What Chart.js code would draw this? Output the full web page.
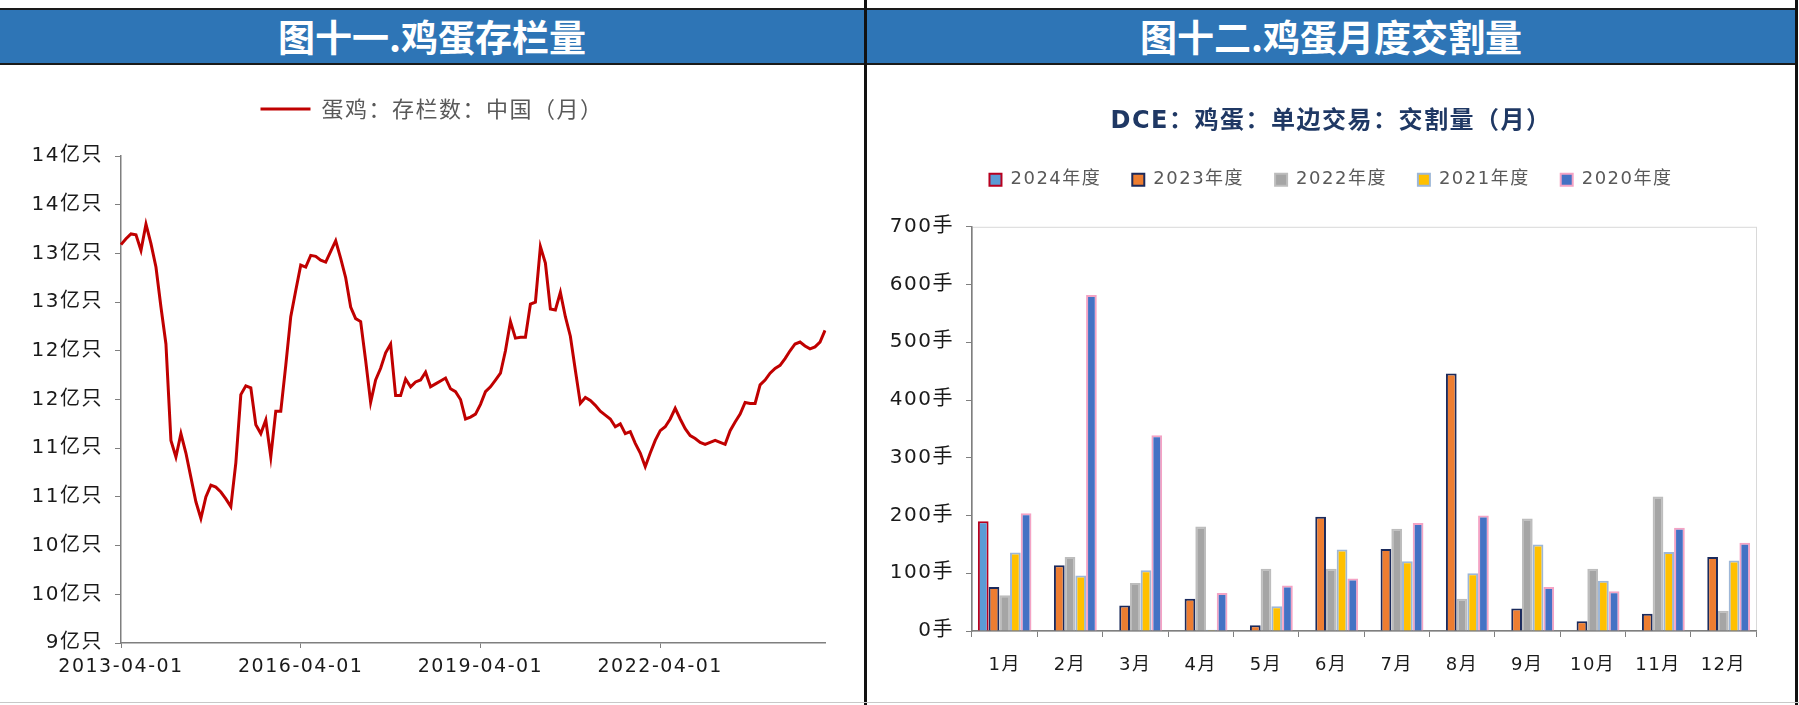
<!DOCTYPE html>
<html>
<head>
<meta charset="utf-8">
<script src="https://cdn.jsdelivr.net/npm/chart.js@4.4.1/dist/chart.umd.min.js"></script>
<style>
  body { margin: 0; width: 1799px; height: 705px; background: #fff; position: relative; overflow: hidden;
         font-family: "Noto Sans CJK SC", sans-serif; }
  .head { position: absolute; top: 8px; height: 53px; background: #2E75B6; border-top: 2px solid #1a1a1a;
          border-bottom: 2px solid #1a1a1a; color: #fff; font-weight: bold; font-size: 37px;
          line-height: 53px; text-align: center; }
  #divider { position: absolute; left: 864px; top: 0; width: 3px; height: 705px; background: #111; }
  #rightEdge { position: absolute; left: 1795px; top: 0; width: 3px; height: 705px; background: #111; }
  #bottomLine { position: absolute; left: 0; top: 702px; width: 1799px; height: 1px; background: #c8c8c8; }
  canvas { position: absolute; }
</style>
</head>
<body>
<div class="head" style="left:0;width:864px;">图十一.鸡蛋存栏量</div>
<div class="head" style="left:867px;width:928px;">图十二.鸡蛋月度交割量</div>
<div id="divider"></div>
<div id="rightEdge"></div>
<div id="bottomLine"></div>
<canvas id="stockChart" width="864" height="636" style="left:0;top:66px;"></canvas>
<canvas id="deliveryChart" width="926" height="636" style="left:868px;top:66px;"></canvas>
<script>
// 图十一 数据：蛋鸡存栏（亿只），2013-04 起每月一个值
const startYear = 2013, startMonth = 4;
const henStock = [
  13.09, 13.15, 13.20, 13.19, 13.03, 13.30, 13.10, 12.86, 12.45, 12.07,
  11.08, 10.91, 11.15, 10.95, 10.70, 10.45, 10.28, 10.50, 10.62, 10.60,
  10.55, 10.48, 10.40, 10.85, 11.55, 11.64, 11.62, 11.24, 11.15, 11.29,
  10.91, 11.38, 11.38, 11.85, 12.35, 12.62, 12.88, 12.86, 12.98, 12.97,
  12.93, 12.91, 13.02, 13.13, 12.95, 12.75, 12.45, 12.33, 12.30, 11.90,
  11.47, 11.70, 11.82, 11.98, 12.07, 11.54, 11.54, 11.71, 11.63, 11.68,
  11.70, 11.78, 11.63, 11.66, 11.69, 11.72, 11.61, 11.58, 11.50, 11.30,
  11.32, 11.35, 11.45, 11.58, 11.63, 11.70, 11.77, 12.00, 12.30, 12.13,
  12.14, 12.14, 12.48, 12.50, 13.07, 12.90, 12.43, 12.42, 12.60, 12.35,
  12.15, 11.80, 11.46, 11.52, 11.49, 11.44, 11.38, 11.34, 11.30, 11.22,
  11.25, 11.15, 11.17, 11.05, 10.95, 10.81, 10.95, 11.08, 11.18, 11.22,
  11.30, 11.41, 11.30, 11.20, 11.13, 11.10, 11.06, 11.04, 11.06, 11.08,
  11.06, 11.04, 11.18, 11.27, 11.35, 11.47, 11.46, 11.46, 11.65, 11.70,
  11.77, 11.82, 11.85, 11.92, 12.00, 12.07, 12.09, 12.05, 12.02, 12.04,
  12.09, 12.21
];
const dates = [];
for (let i = 0; i < henStock.length; i++) {
  const m = startMonth - 1 + i;
  const y = startYear + Math.floor(m / 12);
  dates.push(y + '-' + String(m % 12 + 1).padStart(2, '0') + '-01');
}

// 图十二 数据：DCE 鸡蛋交割量（手）
const months = ['1月', '2月', '3月', '4月', '5月', '6月', '7月', '8月', '9月', '10月', '11月', '12月'];
const yearNames = ['2024年度', '2023年度', '2022年度', '2021年度', '2020年度'];
const d2024 = [190, null, null, null, null, null, null, null, null, null, null, null];
const d2023 = [76, 114, 44, 56, 10, 198, 142, 446, 39, 17, 30, 128];
const d2022 = [62, 128, 83, 181, 108, 108, 177, 56, 195, 108, 233, 35];
const d2021 = [136, 96, 105, 2, 43, 141, 121, 100, 150, 87, 137, 122];
const d2020 = [204, 582, 339, 66, 79, 91, 187, 200, 76, 69, 179, 153];

const fillColors = ['#5B9BD5', '#ED7D31', '#A5A5A5', '#FFC000', '#4472C4'];
const edgeColors = ['#B8001F', '#1B2A5C', '#BDBDBD', '#9DB7D8', '#F4A3C4'];

const numFamily = '"DejaVu Sans", "Noto Sans CJK SC", sans-serif';
const axisGray = '#7F7F7F';

// 图例下方留白
const legendGap = {
  id: 'legendGap',
  beforeInit(chart, args, opts) {
    const origFit = chart.legend.fit;
    chart.legend.fit = function () {
      origFit.bind(chart.legend)();
      this.height += opts.gap || 0;
    };
  }
};

// 标题、图例按整张画布居中
const centerBoxes = {
  id: 'centerBoxes',
  afterLayout(chart) {
    [chart.legend, chart.titleBlock].forEach(box => {
      if (box) { box.left = 0; box.right = chart.width; }
    });
  }
};

// 字距（原图字体较宽松）
const spacing = {
  id: 'spacing',
  beforeUpdate(chart, args, opts) { chart.ctx.letterSpacing = (opts.px || 0) + 'px'; },
  beforeDraw(chart, args, opts) { chart.ctx.letterSpacing = (opts.px || 0) + 'px'; }
};

// 绘图区外框
const plotFrame = {
  id: 'plotFrame',
  beforeDraw(chart, args, opts) {
    if (!opts.color) return;
    const { ctx, chartArea: a } = chart;
    ctx.save();
    ctx.strokeStyle = opts.color;
    ctx.lineWidth = 1;
    ctx.strokeRect(a.left + 0.5, a.top + 0.5, a.right - a.left, a.bottom - a.top);
    ctx.restore();
  }
};

new Chart(document.getElementById('stockChart'), {
  type: 'line',
  data: {
    labels: dates,
    datasets: [{
      label: '蛋鸡：存栏数：中国（月）',
      data: henStock,
      borderColor: '#C00000',
      backgroundColor: '#C00000',
      borderWidth: 3,
      pointRadius: 0,
      tension: 0
    }]
  },
  plugins: [legendGap, centerBoxes, spacing],
  options: {
    responsive: false,
    animation: false,
    layout: { padding: { left: 0, right: 39, top: 22, bottom: 0 } },
    plugins: {
      legendGap: { gap: 26 },
      spacing: { px: 1.5 },
      tooltip: { enabled: false },
      legend: {
        labels: {
          usePointStyle: true,
          pointStyle: 'line',
          pointStyleWidth: 50,
          padding: 10,
          color: '#595959',
          font: { family: '"Noto Sans CJK SC", sans-serif', size: 22 }
        }
      }
    },
    scales: {
      x: {
        afterFit(scale) { scale.height = 59; },
        border: { color: axisGray, width: 1.5 },
        grid: { drawOnChartArea: false, color: axisGray, tickLength: 5 },
        ticks: {
          autoSkip: false,
          maxRotation: 0,
          padding: 8,
          color: '#1a1a1a',
          font: { family: numFamily, size: 19 },
          callback: (v, i) => (i % 36 === 0 ? dates[i] : null)
        }
      },
      y: {
        min: 9,
        max: 14,
        afterFit(scale) { scale.width = 121; },
        border: { color: axisGray, width: 1.5 },
        grid: { drawOnChartArea: false, color: axisGray, tickLength: 6 },
        ticks: {
          stepSize: 0.5,
          padding: 12,
          color: '#1a1a1a',
          font: { family: numFamily, size: 20 },
          callback: v => Math.round(v) + '亿只'
        }
      }
    }
  }
});

const yearSeries = [d2024, d2023, d2022, d2021, d2020];

new Chart(document.getElementById('deliveryChart'), {
  type: 'bar',
  data: {
    labels: months,
    datasets: yearSeries.map((vals, k) => ({
      label: yearNames[k],
      data: vals,
      backgroundColor: fillColors[k],
      borderColor: edgeColors[k],
      borderWidth: 2,
      categoryPercentage: 0.82,
      barPercentage: 1.0
    }))
  },
  plugins: [legendGap, centerBoxes, plotFrame, spacing],
  options: {
    responsive: false,
    animation: false,
    layout: { padding: { left: 0, right: 38, top: 0, bottom: 0 } },
    plugins: {
      legendGap: { gap: 28 },
      plotFrame: { color: '#D9D9D9' },
      spacing: { px: 1.5 },
      tooltip: { enabled: false },
      title: {
        display: true,
        text: 'DCE：鸡蛋：单边交易：交割量（月）',
        color: '#1F3864',
        font: { family: numFamily, size: 24, weight: 'bold' },
        padding: { top: 41, bottom: 4 }
      },
      legend: {
        labels: {
          boxWidth: 12,
          boxHeight: 12,
          padding: 31,
          color: '#595959',
          font: { family: numFamily, size: 18 }
        }
      }
    },
    scales: {
      x: {
        afterFit(scale) { scale.height = 71; },
        border: { color: axisGray, width: 1.5 },
        grid: { drawOnChartArea: false, color: axisGray, tickLength: 6 },
        ticks: { padding: 18, color: '#1a1a1a', font: { family: numFamily, size: 18 } }
      },
      y: {
        min: 0,
        max: 700,
        afterFit(scale) { scale.width = 104; },
        border: { color: axisGray, width: 1.5 },
        grid: { drawOnChartArea: false, color: axisGray, tickLength: 6 },
        ticks: {
          stepSize: 100,
          padding: 12,
          color: '#1a1a1a',
          font: { family: numFamily, size: 20 },
          callback: v => v + '手'
        }
      }
    }
  }
});
</script>
</body>
</html>
